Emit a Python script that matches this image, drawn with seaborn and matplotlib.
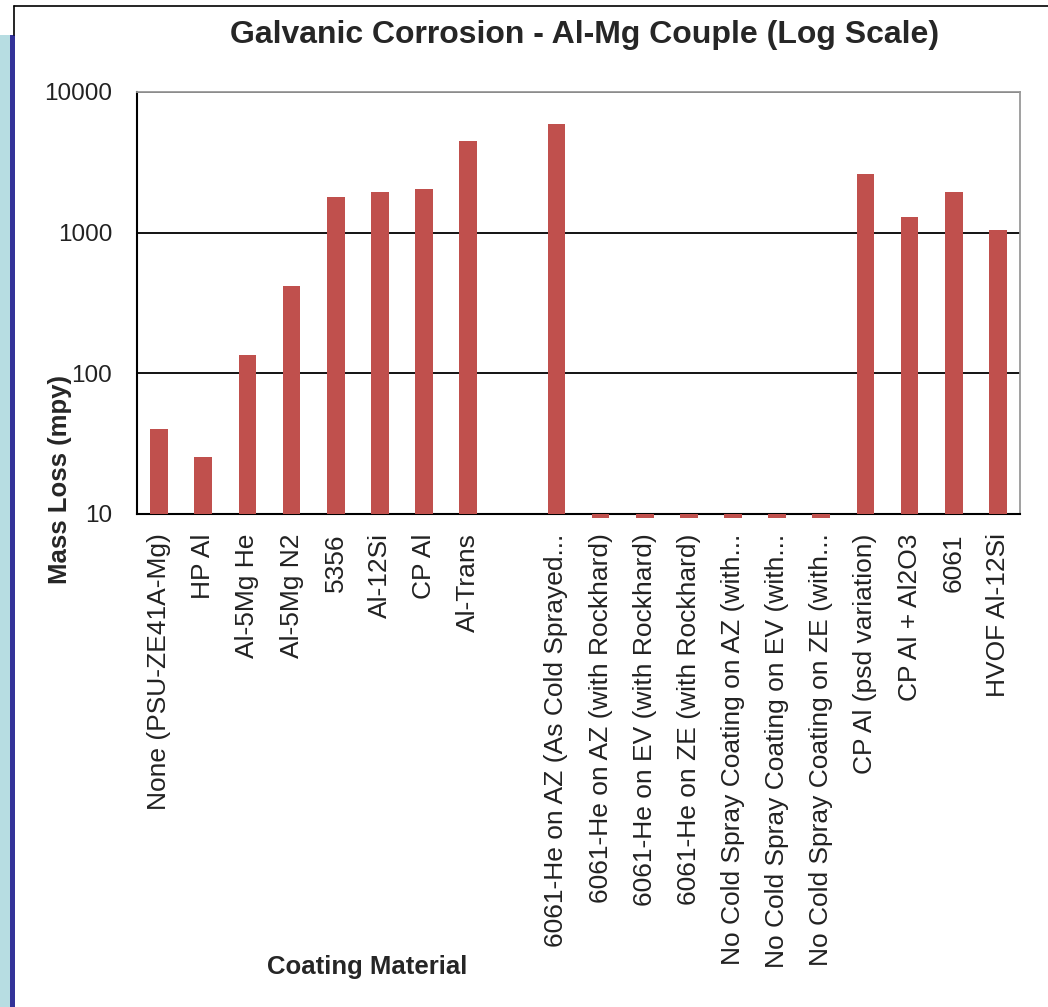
import numpy as np
import pandas as pd
import matplotlib
matplotlib.use("Agg")
import matplotlib.pyplot as plt
import matplotlib.ticker as mticker
from matplotlib.patches import Rectangle
from matplotlib.lines import Line2D
import seaborn as sns

# datos (mpy, escala log)
materiales = [
    "None (PSU-ZE41A-Mg)", "HP Al", "Al-5Mg He", "Al-5Mg N2", "5356",
    "Al-12Si", "CP Al", "Al-Trans", "",
    "6061-He on AZ (As Cold Sprayed...",
    "6061-He on AZ (with Rockhard)",
    "6061-He on EV (with Rockhard)",
    "6061-He on ZE (with Rockhard)",
    "No Cold Spray Coating on AZ (with...",
    "No Cold Spray Coating on EV (with...",
    "No Cold Spray Coating on ZE (with...",
    "CP Al (psd variation)", "CP Al + Al2O3", "6061", "HVOF Al-12Si",
]
perdida = [40, 25.5, 135, 420, 1790, 1950, 2040, 4480, np.nan,
           5950, 9.4, 9.4, 9.4, 9.4, 9.4, 9.4,
           2630, 1300, 1930, 1050]
yticks = [10, 100, 1000, 10000]

df = pd.DataFrame({"material": materiales, "mpy": perdida})

sns.set_style("white")
plt.rcParams["font.family"] = ["Liberation Sans", "DejaVu Sans"]

fig = plt.figure(figsize=(10.48, 10.07), dpi=100)
ax = fig.add_axes([137 / 1048, 1 - 514 / 1007, (1020 - 137) / 1048, (514 - 92) / 1007])

sns.barplot(data=df, x="material", y="mpy", order=materiales, color="#c0504d",
            saturation=1, width=0.4, ax=ax, errorbar=None, linewidth=0)
ax.set_yscale("log")
ax.set_ylim(10, 10000)

# barras desde la base 10 (como Excel), las < 10 salen por debajo del eje
for p in ax.patches:
    top = p.get_y() + p.get_height()
    p.set_y(10)
    p.set_height(top - 10)
    p.set_clip_on(False)
    p.set_zorder(3)

ax.set_yticks(yticks)
ax.yaxis.set_major_formatter(mticker.FuncFormatter(lambda v, pos: f"{int(v)}"))
ax.yaxis.set_minor_locator(mticker.NullLocator())
ax.grid(axis="y", color="black", linewidth=1.3)
ax.set_axisbelow(True)

ax.set_xlim(-0.5, len(materiales) - 0.5)
ax.set_xticks(np.arange(len(materiales) + 1) - 0.5, minor=False)
ax.set_xticklabels([])
ax.set_xticks(np.arange(len(materiales)), minor=True)
ax.set_xticklabels(materiales, minor=True, rotation=90, fontsize=19, color="#222222")
ax.tick_params(axis="x", which="major", direction="out", length=8, width=1.3, color="black")
ax.tick_params(axis="x", which="minor", length=0, pad=14)
ax.tick_params(axis="y", direction="out", length=8, width=1.3, color="black",
               labelsize=17.5, labelcolor="#222222", pad=10)
ax.set_xlabel("")
ax.set_ylabel("")

for s in ["top", "right"]:
    ax.spines[s].set_color("#999999")
    ax.spines[s].set_linewidth(1.3)
for s in ["left", "bottom"]:
    ax.spines[s].set_color("black")
    ax.spines[s].set_linewidth(1.5)

fig.text(585 / 1048, 1 - 35 / 1007, "Galvanic Corrosion - Al-Mg Couple (Log Scale)",
         ha="center", va="center", fontsize=23, fontweight="bold")
fig.text(60 / 1048, 1 - 480 / 1007, "Mass Loss (mpy)", rotation=90,
         ha="center", va="center", fontsize=18.5, fontweight="bold")
fig.text(367 / 1048, 1 - 967 / 1007, "Coating Material",
         ha="center", va="center", fontsize=18.5, fontweight="bold")

# marco de la diapositiva
fig.patches.append(Rectangle((0, 0), 10 / 1048, 1 - 35 / 1007, transform=fig.transFigure,
                             facecolor="#b7dde2", edgecolor="none"))
fig.patches.append(Rectangle((10 / 1048, 0), 5 / 1048, 1 - 35 / 1007, transform=fig.transFigure,
                             facecolor="#333399", edgecolor="none"))
fig.lines.append(Line2D([14 / 1048, 1], [1 - 6 / 1007] * 2, transform=fig.transFigure,
                        color="black", linewidth=1.2))
fig.lines.append(Line2D([14 / 1048] * 2, [1 - 6 / 1007, 1 - 35 / 1007], transform=fig.transFigure,
                        color="black", linewidth=1.2))

fig.savefig("out.png", dpi=100)
